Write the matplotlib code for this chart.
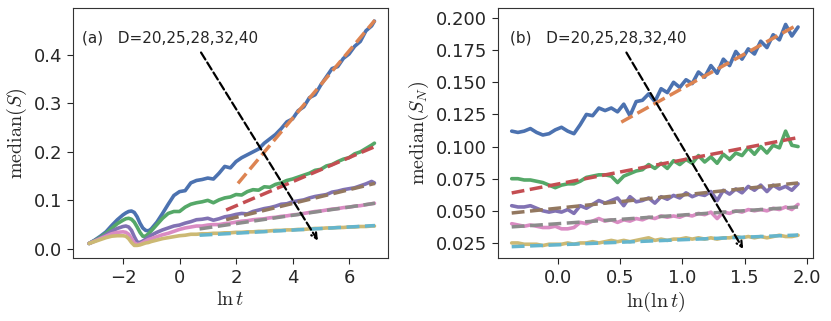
import numpy as np
import matplotlib
matplotlib.use('Agg')
import matplotlib.pyplot as plt
import seaborn as sns

# ----------------------------------------------------------------------------------------------------------------------
# data

# panel (a): median(S) vs ln t
lnt = [-3.2, -3.0, -2.8, -2.6, -2.4, -2.2, -2.0, -1.9, -1.8, -1.7, -1.6, -1.5, -1.4, -1.3, -1.2, -1.1, -1.0,
       -0.8, -0.6, -0.4, -0.2, 0.0, 0.2, 0.4, 0.6, 0.8, 1.0, 1.2, 1.4, 1.6, 1.8, 2.0, 2.2, 2.4, 2.6, 2.8, 3.0,
       3.2, 3.4, 3.6, 3.8, 4.0, 4.2, 4.4, 4.6, 4.8, 5.0, 5.2, 5.4, 5.6, 5.8, 6.0, 6.2, 6.4, 6.6, 6.8, 6.9]
s_d20 = [0.011, 0.018, 0.026, 0.035, 0.048, 0.060, 0.070, 0.074, 0.077, 0.078, 0.075, 0.066, 0.053, 0.043, 0.038,
         0.037, 0.041, 0.055, 0.073, 0.092, 0.110, 0.118, 0.120, 0.136, 0.141, 0.143, 0.146, 0.144, 0.156, 0.170,
         0.167, 0.180, 0.188, 0.194, 0.200, 0.206, 0.218, 0.227, 0.236, 0.248, 0.262, 0.268, 0.285, 0.293, 0.312,
         0.318, 0.338, 0.355, 0.372, 0.376, 0.393, 0.402, 0.418, 0.428, 0.450, 0.460, 0.470]
s_d25 = [0.011, 0.017, 0.024, 0.032, 0.042, 0.052, 0.059, 0.062, 0.063, 0.061, 0.055, 0.045, 0.034, 0.026, 0.026,
         0.031, 0.037, 0.050, 0.063, 0.073, 0.077, 0.077, 0.086, 0.092, 0.095, 0.097, 0.100, 0.095, 0.101, 0.105,
         0.107, 0.112, 0.111, 0.118, 0.122, 0.121, 0.128, 0.127, 0.133, 0.136, 0.141, 0.144, 0.148, 0.152, 0.156,
         0.162, 0.164, 0.171, 0.174, 0.180, 0.185, 0.188, 0.196, 0.200, 0.207, 0.214, 0.218]
s_d28 = [0.011, 0.016, 0.022, 0.029, 0.036, 0.042, 0.046, 0.047, 0.045, 0.038, 0.025, 0.014, 0.013, 0.016, 0.020,
         0.024, 0.028, 0.034, 0.039, 0.043, 0.047, 0.049, 0.053, 0.056, 0.060, 0.061, 0.063, 0.059, 0.062, 0.066,
         0.068, 0.071, 0.073, 0.072, 0.077, 0.080, 0.083, 0.085, 0.088, 0.092, 0.093, 0.097, 0.099, 0.101, 0.105,
         0.108, 0.110, 0.112, 0.117, 0.119, 0.122, 0.124, 0.126, 0.130, 0.134, 0.139, 0.136]
s_d32 = [0.011, 0.016, 0.021, 0.026, 0.031, 0.034, 0.035, 0.034, 0.030, 0.021, 0.012, 0.009, 0.010, 0.013, 0.016,
         0.019, 0.021, 0.025, 0.029, 0.032, 0.036, 0.040, 0.043, 0.045, 0.047, 0.047, 0.049, 0.050, 0.050, 0.052,
         0.053, 0.055, 0.057, 0.058, 0.060, 0.061, 0.062, 0.064, 0.065, 0.067, 0.068, 0.070, 0.071, 0.073, 0.075,
         0.077, 0.078, 0.080, 0.082, 0.083, 0.085, 0.086, 0.088, 0.089, 0.091, 0.093, 0.094]
s_d40 = [0.011, 0.015, 0.019, 0.023, 0.026, 0.027, 0.027, 0.026, 0.021, 0.013, 0.007, 0.007, 0.008, 0.010, 0.012,
         0.013, 0.015, 0.018, 0.021, 0.023, 0.025, 0.027, 0.028, 0.030, 0.030, 0.031, 0.031, 0.032, 0.032, 0.033,
         0.033, 0.034, 0.034, 0.035, 0.035, 0.036, 0.036, 0.037, 0.038, 0.038, 0.039, 0.039, 0.040, 0.040, 0.041,
         0.042, 0.042, 0.043, 0.043, 0.044, 0.044, 0.045, 0.045, 0.046, 0.046, 0.047, 0.047]
curves_a = [s_d20, s_d25, s_d28, s_d32, s_d40]
# linear fits (start/end points)
fit_a_x = [[2.07, 6.92], [1.65, 6.92], [1.65, 6.92], [0.71, 6.92], [0.71, 6.92]]
fit_a_y = [[0.135, 0.472], [0.080, 0.211], [0.060, 0.135], [0.041, 0.094], [0.028, 0.048]]

# panel (b): median(S_N) vs ln(ln t)
lnlnt = [-0.37, -0.32, -0.27, -0.22, -0.17, -0.12, -0.07, -0.02, 0.03, 0.08, 0.13, 0.18, 0.23, 0.28, 0.33, 0.38,
         0.43, 0.48, 0.53, 0.58, 0.63, 0.68, 0.73, 0.78, 0.83, 0.88, 0.93, 0.98, 1.03, 1.08, 1.13, 1.18, 1.23,
         1.28, 1.33, 1.38, 1.43, 1.48, 1.53, 1.58, 1.63, 1.68, 1.73, 1.78, 1.83, 1.88, 1.93]
sn_d20 = [0.112, 0.111, 0.112, 0.114, 0.111, 0.109, 0.110, 0.113, 0.115, 0.112, 0.110, 0.117, 0.125, 0.124, 0.130,
          0.128, 0.130, 0.127, 0.133, 0.124, 0.135, 0.136, 0.141, 0.135, 0.145, 0.142, 0.150, 0.146, 0.152, 0.149,
          0.158, 0.154, 0.163, 0.157, 0.168, 0.163, 0.174, 0.168, 0.176, 0.172, 0.182, 0.177, 0.187, 0.183, 0.195,
          0.186, 0.193]
sn_d25 = [0.075, 0.075, 0.074, 0.074, 0.073, 0.072, 0.070, 0.068, 0.070, 0.071, 0.071, 0.073, 0.076, 0.077, 0.078,
          0.078, 0.077, 0.072, 0.077, 0.079, 0.081, 0.082, 0.086, 0.083, 0.087, 0.083, 0.089, 0.086, 0.090, 0.087,
          0.093, 0.088, 0.092, 0.087, 0.094, 0.090, 0.095, 0.093, 0.099, 0.094, 0.100, 0.095, 0.101, 0.099, 0.112,
          0.101, 0.100]
sn_d28 = [0.054, 0.053, 0.053, 0.054, 0.052, 0.050, 0.049, 0.050, 0.049, 0.051, 0.048, 0.054, 0.052, 0.055, 0.058,
          0.056, 0.058, 0.060, 0.054, 0.061, 0.057, 0.058, 0.060, 0.056, 0.061, 0.059, 0.062, 0.060, 0.064, 0.061,
          0.063, 0.062, 0.065, 0.058, 0.066, 0.063, 0.067, 0.064, 0.069, 0.066, 0.070, 0.065, 0.070, 0.067, 0.069,
          0.066, 0.071]
sn_d32 = [0.040, 0.039, 0.038, 0.039, 0.038, 0.037, 0.037, 0.038, 0.036, 0.036, 0.037, 0.041, 0.040, 0.042, 0.044,
          0.042, 0.043, 0.041, 0.043, 0.042, 0.044, 0.043, 0.045, 0.044, 0.046, 0.045, 0.046, 0.045, 0.047, 0.046,
          0.048, 0.047, 0.049, 0.044, 0.049, 0.048, 0.050, 0.049, 0.051, 0.050, 0.051, 0.050, 0.052, 0.051, 0.053,
          0.051, 0.055]
sn_d40 = [0.025, 0.025, 0.024, 0.024, 0.024, 0.023, 0.024, 0.024, 0.024, 0.025, 0.024, 0.025, 0.025, 0.026, 0.025,
          0.026, 0.027, 0.026, 0.027, 0.026, 0.027, 0.028, 0.029, 0.027, 0.028, 0.027, 0.028, 0.028, 0.029, 0.028,
          0.029, 0.028, 0.029, 0.028, 0.029, 0.029, 0.030, 0.029, 0.030, 0.029, 0.030, 0.029, 0.030, 0.031, 0.030,
          0.030, 0.031]
curves_b = [sn_d20, sn_d25, sn_d28, sn_d32, sn_d40]
fit_b_x = [[0.51, 1.93], [-0.37, 1.93], [-0.37, 1.93], [-0.37, 1.93], [-0.37, 1.93]]
fit_b_y = [[0.119, 0.195], [0.0639, 0.107], [0.0483, 0.0717], [0.0375, 0.053], [0.0221, 0.0312]]

# arrows (tail, head) in data coords
arrow_a = [(0.71, 0.41), (4.95, 0.012)]
arrow_b = [(0.54, 0.175), (1.50, 0.0185)]

# ----------------------------------------------------------------------------------------------------------------------
# style

sns.set_style('ticks')
sns.set_palette('deep')
plt.rcParams['mathtext.fontset'] = 'cm'
plt.rcParams['xtick.major.size'] = 4.5
plt.rcParams['ytick.major.size'] = 4.5
plt.rcParams['axes.edgecolor'] = '.2'

f = plt.figure(figsize=(8.31, 3.21), dpi=100)
ax1 = f.add_axes([73 / 831, 63 / 321, 315 / 831, 250 / 321])
ax2 = f.add_axes([498 / 831, 63 / 321, 315 / 831, 250 / 321])

# ----------------------------------------------------------------------------------------------------------------------
# panel (a)

for i in range(5):
    ax1.plot(lnt, curves_a[i], color='C%d' % (2 * i), lw=2.6)
    ax1.plot(fit_a_x[i], fit_a_y[i], color='C%d' % (2 * i + 1), lw=2.5, ls='--')
ax1.annotate('', xy=arrow_a[1], xytext=arrow_a[0],
             arrowprops=dict(arrowstyle='->', ls='--', lw=1.6, color='k'))
ax1.text(0.028, 0.88, '(a)   D=20,25,28,32,40', transform=ax1.transAxes, fontsize=11, va='center')
ax1.set_xlim(-3.77, 7.38)
ax1.set_ylim(-0.019, 0.497)
ax1.set_xticks([-2, 0, 2, 4, 6])
ax1.set_yticks([0.0, 0.1, 0.2, 0.3, 0.4])
ax1.tick_params(labelsize=13)
ax1.set_xlabel(r'$\ln t$', fontsize=14.5, labelpad=2)
ax1.set_ylabel(r'$\mathrm{median}(S)$', fontsize=14.5, labelpad=3)

# ----------------------------------------------------------------------------------------------------------------------
# panel (b)

for i in range(5):
    ax2.plot(lnlnt, curves_b[i], color='C%d' % (2 * i), lw=2.6)
    ax2.plot(fit_b_x[i], fit_b_y[i], color='C%d' % (2 * i + 1), lw=2.5, ls='--')
ax2.annotate('', xy=arrow_b[1], xytext=arrow_b[0],
             arrowprops=dict(arrowstyle='->', ls='--', lw=1.6, color='k'))
ax2.text(0.038, 0.88, '(b)   D=20,25,28,32,40', transform=ax2.transAxes, fontsize=11, va='center')
ax2.set_xlim(-0.48, 2.05)
ax2.set_ylim(0.0133, 0.2078)
ax2.set_xticks([0.0, 0.5, 1.0, 1.5, 2.0])
ax2.set_yticks([0.025, 0.05, 0.075, 0.1, 0.125, 0.15, 0.175, 0.2])
ax2.set_yticklabels(['0.025', '0.050', '0.075', '0.100', '0.125', '0.150', '0.175', '0.200'])
ax2.tick_params(labelsize=13)
ax2.set_xlabel(r'$\ln(\ln t)$', fontsize=14.5, labelpad=2)
ax2.set_ylabel(r'$\mathrm{median}(S_N)$', fontsize=14.5, labelpad=3)

f.savefig('out.png', dpi=100)
